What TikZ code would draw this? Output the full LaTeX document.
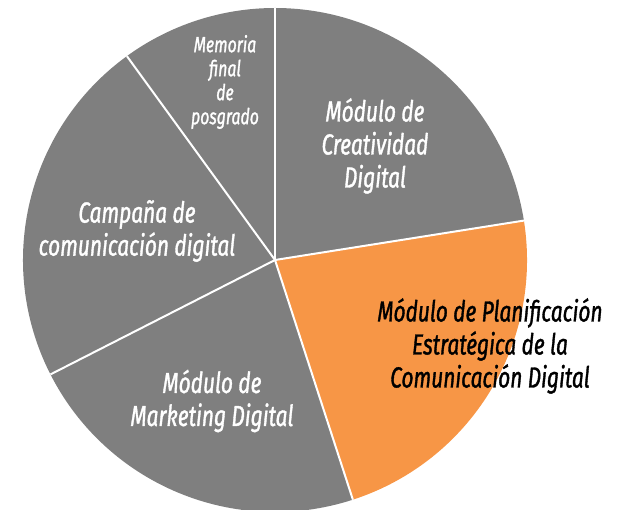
\documentclass[tikz,border=0pt]{standalone}
\usepackage{fontspec}
\setmainfont{Fira Sans}[FakeStretch=0.72,ItalicFeatures={FakeBold=1.2}]
\usetikzlibrary{positioning}
\definecolor{pieGray}{HTML}{7F7F7F}
\definecolor{pieOrange}{HTML}{F79646}

\begin{document}
\begin{tikzpicture}[x=1pt,y=1pt,
                    lbl/.style={text=white,align=center,
                      font=\itshape\fontsize{29}{33}\selectfont}]
      \tikzstyle{small lbl}=[lbl,font=\itshape\fontsize{22}{24}\selectfont]
      \def\R{252pt}

      \useasboundingbox (0,0) rectangle (617,509);
      \coordinate (O) at (275,249);

      % slices
      \fill[pieGray]   (O) -- ++(90:\R)  arc (90:126:\R)  -- cycle;
      \fill[pieGray]   (O) -- ++(126:\R) arc (126:207:\R) -- cycle;
      \fill[pieGray]   (O) -- ++(207:\R) arc (207:288:\R) -- cycle;
      \fill[pieOrange] (O) -- ++(-72:\R) arc (-72:9:\R)   -- cycle;
      \fill[pieGray]   (O) -- ++(9:\R)   arc (9:90:\R)    -- cycle;
      \foreach \a in {9,90,126,207,288}
        \draw[white,line width=2pt] (O) -- ++(\a:\R);

      \node[small lbl] (mem)  at (225,427) {Memoria\\final\\de\\posgrado};
      \node[lbl]       (crea) at (375,363) {Módulo de\\Creatividad\\Digital};
      \node[lbl]       (camp) at (137,278) {Campaña de\\comunicación digital};
      \node[lbl]       (mkt)  at (212,108) {Módulo de\\Marketing Digital};
      \node[lbl,text=black] (plan) at (490,163)
            {Módulo de Planificación\\Estratégica de la\\Comunicación Digital};

\end{tikzpicture}
\end{document}
